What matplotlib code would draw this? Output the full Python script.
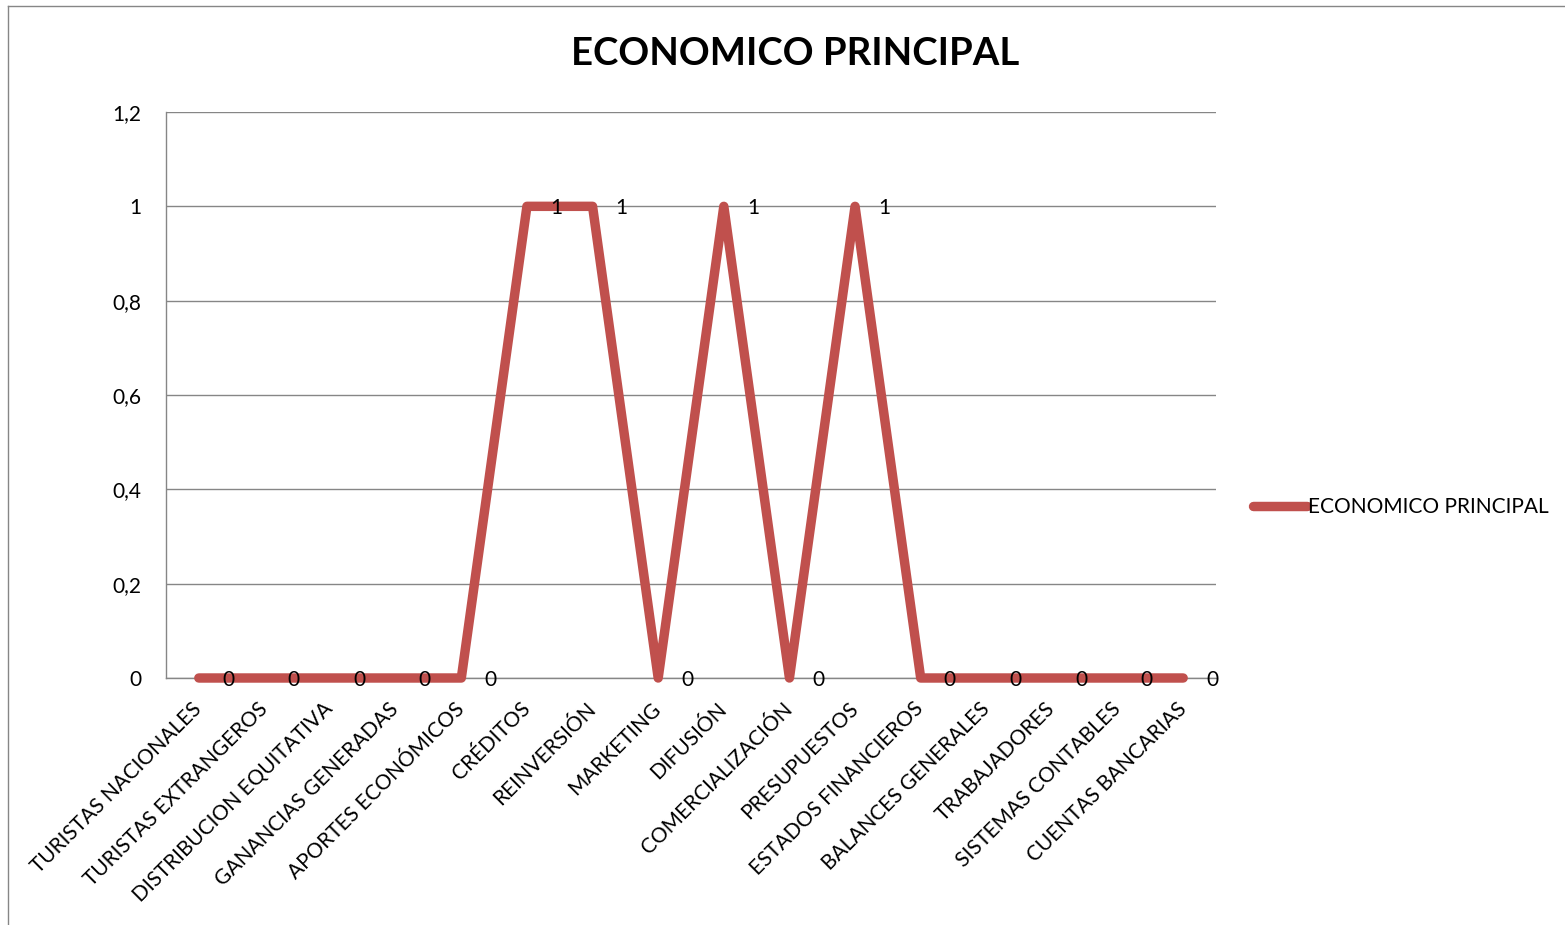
import matplotlib
matplotlib.use("Agg")
import matplotlib.pyplot as plt
from matplotlib.lines import Line2D

categories = [
    "TURISTAS NACIONALES", "TURISTAS EXTRANGEROS", "DISTRIBUCION EQUITATIVA",
    "GANANCIAS GENERADAS", "APORTES ECONÓMICOS", "CRÉDITOS", "REINVERSIÓN",
    "MARKETING", "DIFUSIÓN", "COMERCIALIZACIÓN", "PRESUPUESTOS",
    "ESTADOS FINANCIEROS", "BALANCES GENERALES", "TRABAJADORES",
    "SISTEMAS CONTABLES", "CUENTAS BANCARIAS",
]
values = [0, 0, 0, 0, 0, 1, 1, 0, 1, 0, 1, 0, 0, 0, 0, 0]
series_name = "ECONOMICO PRINCIPAL"
yticks = [0, 0.2, 0.4, 0.6, 0.8, 1, 1.2]

plt.rcParams["font.family"] = ["Lato", "DejaVu Sans"]
LINE = "#C0504D"
GRID = "#868686"
FS = 15

W, H = 1565, 925
fig = plt.figure(figsize=(W / 100, H / 100), dpi=100)
ax = fig.add_axes([166 / W, 1 - 678 / H, (1216 - 166) / W, (678 - 112) / H])

# outer chart border
fig.add_artist(plt.Line2D([8 / W, 8 / W], [0, 1 - 6 / H], color=GRID, lw=1))
fig.add_artist(plt.Line2D([8 / W, 1], [1 - 6 / H, 1 - 6 / H], color=GRID, lw=1))

x = list(range(len(categories)))
ax.plot(x, values, color=LINE, lw=6.8, solid_capstyle="round",
        solid_joinstyle="round", zorder=3, clip_on=False)

for xi, v in zip(x, values):
    ax.annotate(f"{v}", (xi, v), xytext=(21, -1.5), textcoords="offset points",
                ha="center", va="center", fontsize=FS, zorder=4)

ax.set_xlim(-0.5, len(categories) - 0.5)
ax.set_ylim(0, 1.2)
ax.set_yticks(yticks)
ax.set_yticklabels([f"{t:g}".replace(".", ",") for t in yticks], fontsize=FS)
ax.yaxis.grid(True, color=GRID, lw=1)
ax.set_axisbelow(True)
ax.set_xticks(x)
ax.set_xticklabels(categories, rotation=45, ha="right", va="center",
                   rotation_mode="anchor", fontsize=FS)
ax.tick_params(axis="both", length=0)
ax.tick_params(axis="x", pad=20)
ax.tick_params(axis="y", pad=18)
for s in ["top", "right"]:
    ax.spines[s].set_visible(False)
for s in ["left", "bottom"]:
    ax.spines[s].set_color(GRID)
    ax.spines[s].set_linewidth(1)

fig.text(795 / W, 1 - 54 / H, series_name, ha="center", va="center",
         fontsize=27.5, fontweight="bold")

handle = Line2D([0], [0], color=LINE, lw=6.8, solid_capstyle="round")
fig.legend([handle], [series_name], loc="center left",
           bbox_to_anchor=(1253 / W, 1 - 507 / H), frameon=False,
           fontsize=FS, handlelength=2.6, handletextpad=0.05,
           borderpad=0, borderaxespad=0)

fig.savefig("out.png", dpi=100)
